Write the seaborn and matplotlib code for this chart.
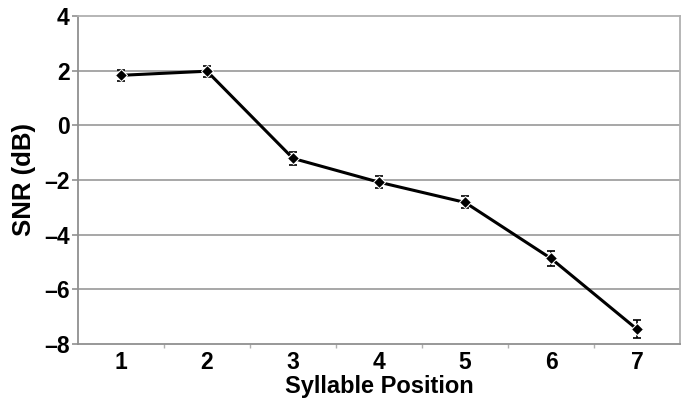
import numpy as np
import pandas as pd
import seaborn as sns
import matplotlib.pyplot as plt

position = [1, 2, 3, 4, 5, 6, 7]
snr = [1.83, 1.98, -1.21, -2.08, -2.82, -4.87, -7.46]
err = [0.20, 0.20, 0.25, 0.22, 0.22, 0.28, 0.32]

df = pd.DataFrame({'position': position, 'snr': snr, 'err': err})

sns.set_style('white', {'text.color': 'black', 'axes.labelcolor': 'black',
                        'xtick.color': 'black', 'ytick.color': 'black'})
plt.rcParams['font.family'] = ['Liberation Sans', 'DejaVu Sans']
plt.rcParams['font.weight'] = 'bold'

fig = plt.figure(figsize=(6.84, 3.98), dpi=100)
ax = fig.add_axes([78/684, 1 - 344/398, (680-78)/684, (344-16)/398])

grid_c = '#a0a0a0'
for y in [-6, -4, -2, 0, 2]:
    ax.axhline(y, color=grid_c, lw=1.3, zorder=0)

sns.lineplot(data=df, x='position', y='snr', color='black', lw=2.2,
             marker='D', markersize=6.5, ax=ax, zorder=3)
ax.errorbar(df['position'], df['snr'], yerr=df['err'], fmt='none',
            ecolor='black', elinewidth=1.2, capsize=3, capthick=1.2, zorder=2)

ax.set_xlim(0.5, 7.5)
ax.set_ylim(-8, 4)
ax.set_yticks(range(-8, 5, 2))
ax.set_yticklabels([str(v).replace('-', '\u2013') for v in range(-8, 5, 2)])
ax.set_xticks(position)
ax.set_xticks(np.arange(1.5, 7, 1), minor=True)

for s in ax.spines.values():
    s.set_color('#b0b0b0')
    s.set_linewidth(1.3)
ax.spines['left'].set_color('#909090')
ax.spines['bottom'].set_color('#909090')

ax.tick_params(axis='y', which='major', length=4, width=1.2, color='#909090',
               labelcolor='black', labelsize=16.5, pad=2, left=True)
ax.tick_params(axis='x', which='major', length=0, labelcolor='black',
               labelsize=16.5, pad=5)
ax.tick_params(axis='x', which='minor', length=3, width=1, color='#b0b0b0', bottom=True)

ax.set_xlabel('Syllable Position', fontsize=17, fontweight='bold', labelpad=1, color='black')
ax.set_ylabel('SNR (dB)', fontsize=18.5, fontweight='bold', labelpad=6, color='black')

fig.savefig('out.png', dpi=100)
